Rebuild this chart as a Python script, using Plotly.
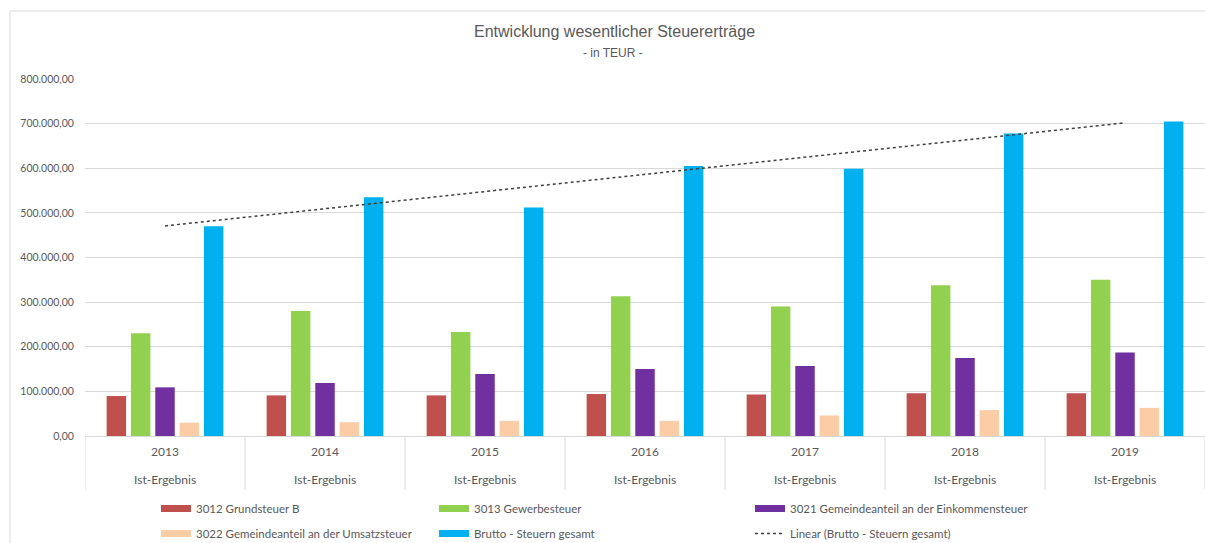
import numpy as np
import plotly.graph_objects as go

years = ["2013", "2014", "2015", "2016", "2017", "2018", "2019"]
result_type = ["Ist-Ergebnis"] * 7

grundsteuer_b = [89500, 91000, 91000, 94000, 93000, 96000, 96000]
gewerbesteuer = [230000, 280000, 233000, 313000, 290000, 338000, 350000]
einkommensteuer = [109000, 119000, 139000, 150000, 157000, 175000, 187000]
umsatzsteuer = [30000, 31000, 34000, 34000, 46000, 58000, 63000]
brutto_gesamt = [470000, 535000, 512000, 605000, 599000, 678000, 705000]

names = [
    "3012 Grundsteuer B",
    "3013 Gewerbesteuer",
    "3021 Gemeindeanteil an der Einkommensteuer",
    "3022 Gemeindeanteil an der Umsatzsteuer",
    "Brutto - Steuern gesamt",
]
colors = ["#C0504D", "#92D050", "#7030A0", "#FBCDA6", "#00B0F0"]
legends = ["legend", "legend2", "legend3", "legend", "legend2"]
series = [grundsteuer_b, gewerbesteuer, einkommensteuer, umsatzsteuer, brutto_gesamt]

# Linear trendline of the total (least squares, like Excel's "Linear" trendline)
idx = np.arange(1, len(years) + 1)
slope, intercept = np.polyfit(idx, brutto_gesamt, 1)
trend = slope * idx + intercept

fig = go.Figure()
for nm, col, vals in zip(names, colors, series):
    fig.add_trace(go.Bar(x=years, y=vals, name=nm, marker=dict(color=col, line=dict(width=0)),
                         showlegend=False, legendgroup=nm))
fig.add_trace(go.Scatter(x=years, y=trend, mode="lines", name="Linear (Brutto - Steuern gesamt)",
                         line=dict(color="#404040", width=1.5, dash="dot"), showlegend=False))

# Legend entries (wide rectangular swatches like the original legend)
for nm, col, lg in zip(names, colors, legends):
    fig.add_trace(go.Scatter(x=[None], y=[None], mode="lines", name=nm, legend=lg,
                             legendgroup=nm, line=dict(color=col, width=7), hoverinfo="skip"))
fig.add_trace(go.Scatter(x=[None], y=[None], mode="lines", name="Linear (Brutto - Steuern gesamt)",
                         legend="legend3", legendgroup="trend",
                         line=dict(color="#404040", width=1.5, dash="dot"), hoverinfo="skip"))

W, H = 1205, 543
ml, mr, mt, mb = 85, 0, 79, 107
pw = W - ml - mr
ph = H - mt - mb

def px_x(px):
    return (px - ml) / pw

def px_y(py):
    return (H - mb - py) / ph

font_main = "Lato, Calibri, 'Open Sans', sans-serif"
grey = "#595959"

shapes = []
# chart border
shapes.append(dict(type="rect", xref="paper", yref="paper", x0=px_x(10), x1=px_x(1215),
                   y0=px_y(553), y1=px_y(11), line=dict(color="#D9D9D9", width=1), layer="below"))
# category dividers (category axis uses serial numbers 0..n-1)
for k in range(len(years) + 1):
    shapes.append(dict(type="line", xref="x", yref="paper", x0=k - 0.5, x1=k - 0.5,
                       y0=0, y1=px_y(490), line=dict(color="#D9D9D9", width=1)))

annotations = [
    dict(text="Entwicklung wesentlicher Steuererträge", xref="paper", yref="paper",
         x=px_x(614), y=px_y(31), showarrow=False, xanchor="center", yanchor="middle",
         font=dict(family="Liberation Sans, Arial, sans-serif", size=16, color=grey)),
    dict(text="- in TEUR -", xref="paper", yref="paper", x=px_x(613), y=px_y(53),
         showarrow=False, xanchor="center", yanchor="middle",
         font=dict(family="Liberation Sans, Arial, sans-serif", size=12, color=grey)),
]
for k, rt in enumerate(result_type):
    annotations.append(dict(text=rt, xref="x", yref="paper", x=k, y=px_y(479), showarrow=False,
                            xanchor="center", yanchor="middle",
                            font=dict(family=font_main, size=12, color=grey)))

leg_common = dict(orientation="v", xanchor="left", yanchor="top", bgcolor="rgba(0,0,0,0)",
                  font=dict(family=font_main, size=11.5, color=grey), tracegroupgap=6,
                  traceorder="grouped", itemwidth=30)

fig.update_layout(
    width=W, height=H,
    margin=dict(l=ml, r=mr, t=mt, b=mb, autoexpand=False),
    paper_bgcolor="white", plot_bgcolor="white",
    separators=",.",
    barmode="group", bargap=0.24, bargroupgap=0.2,
    font=dict(family=font_main, color=grey),
    xaxis=dict(type="category", range=[-0.5, len(years) - 0.5], showgrid=False, showline=True,
               linecolor="#D9D9D9", linewidth=1, ticks="outside", ticklen=5, tickcolor="white",
               tickfont=dict(family=font_main, size=12, color=grey), zeroline=False),
    yaxis=dict(range=[0, 800000], dtick=100000, tickformat=",.2f", showgrid=True,
               gridcolor="#D9D9D9", gridwidth=1, zeroline=False, showline=False,
               tickfont=dict(family=font_main, size=10.5, color=grey), ticks="outside",
               ticklen=8, tickcolor="white"),
    legend=dict(x=px_x(156), y=px_y(494), **leg_common),
    legend2=dict(x=px_x(434), y=px_y(494), **leg_common),
    legend3=dict(x=px_x(750), y=px_y(494), **leg_common),
    shapes=shapes,
    annotations=annotations,
    showlegend=True,
)

fig.write_html("out.html", config={"displayModeBar": False},
               post_script="document.body.style.margin='0';")
